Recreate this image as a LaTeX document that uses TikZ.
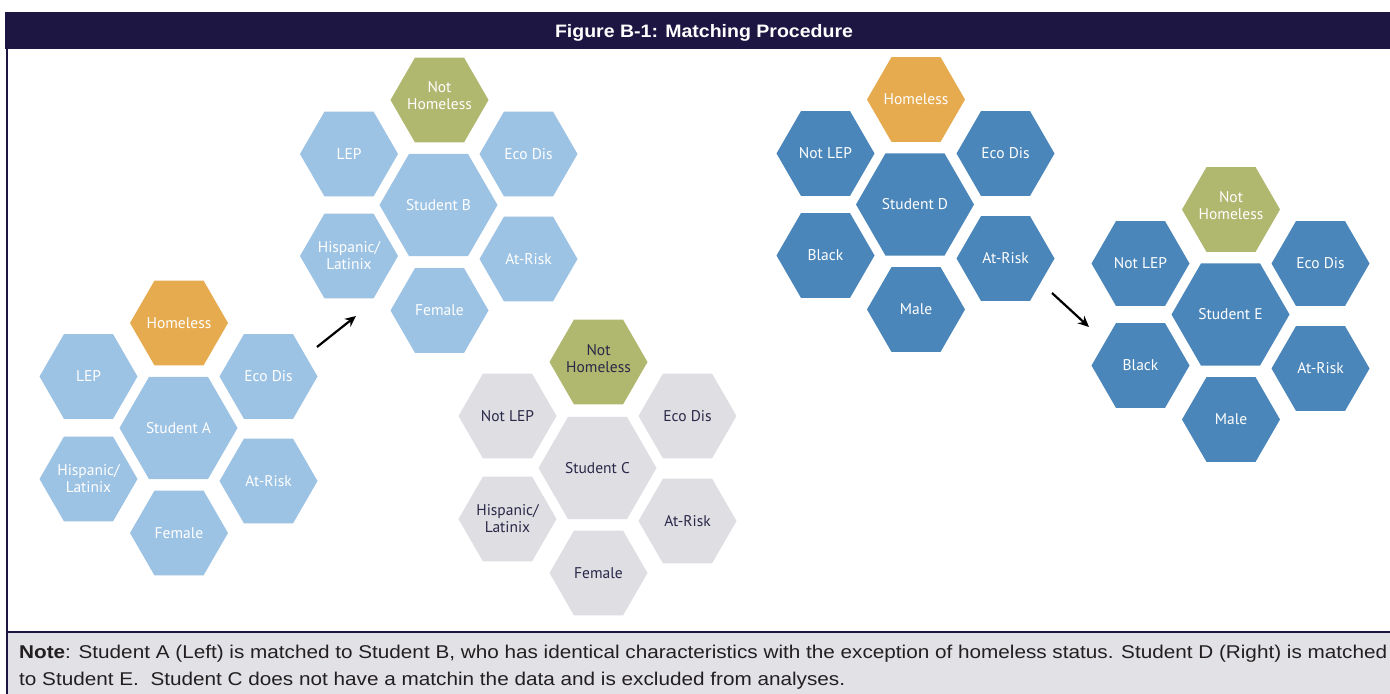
\documentclass[tikz,border=0pt]{standalone}
\usepackage{fontspec}
\usepackage{graphicx}
\usetikzlibrary{shapes.geometric,arrows.meta}
\newfontfamily\hexfont{PT Sans}
\newfontfamily\notefont{Liberation Sans}
\definecolor{lblue}{HTML}{9DC3E4}
\definecolor{hexorange}{HTML}{E6AA4F}
\definecolor{olive}{HTML}{B0B76F}
\definecolor{hexgray}{HTML}{DEDEE3}
\definecolor{dblue}{HTML}{4A86B9}
\definecolor{navy}{HTML}{1E1642}
\definecolor{darktext}{HTML}{2A2848}
\definecolor{notebg}{HTML}{E1E1E6}
\definecolor{notetext}{HTML}{231F20}
\tikzset{
  hexS/.style={regular polygon, regular polygon sides=6, minimum size=98bp, inner sep=0pt, draw=none},
  hexL/.style={hexS, minimum size=118bp},
  hexT/.style={inner sep=0pt, align=center, text=white, font=\hexfont\fontsize{15.5bp}{17bp}\selectfont},
  lab/.style={label={[hexT]center:{#1}}},
  labd/.style={label={[hexT,text=darktext]center:{#1}}},
  labup/.style={label={[hexT,yshift=4bp]center:{#1}}},
  labupd/.style={label={[hexT,yshift=3bp,text=darktext]center:{#1}}},
  hexA/.style={fill=lblue},
  hexO/.style={fill=hexorange},
  hexG/.style={fill=olive},
  hexC/.style={fill=hexgray},
  hexD/.style={fill=dblue},
  matcharrow/.style={line width=2.2bp, -{Stealth[length=11bp,width=10bp]}},
}
\begin{document}
\begin{tikzpicture}[x=1bp,y=-1bp]
\useasboundingbox (0,0) rectangle (1390,694);
% frame
\fill[white] (0,0) rectangle (1390,694);
\fill[navy] (5,12) rectangle (1390,49);
\fill[notebg] (7,632) rectangle (1390,694);
\draw[navy, line width=1.2bp] (7,49) -- (7,694);
\draw[navy, line width=1.2bp] (7,632) -- (1390,632);
\node[text=white, anchor=base, font=\notefont\bfseries\fontsize{18bp}{20bp}\selectfont] (title) at (704,37.5)
  {\resizebox{298bp}{\height}{Figure B-1: Matching Procedure}};

% Cluster A
\node[hexL,hexA,lab={Student A}] (sA) at (178.5,428) {};
\node[hexS,hexO,lab={Homeless}] (aH) at (179,323) {};
\node[hexS,hexA,lab={LEP}] (aL) at (88.5,376.5) {};
\node[hexS,hexA,lab={Eco Dis}] (aE) at (268.5,376.5) {};
\node[hexS,hexA,lab={Hispanic/\\Latinix}] (aHi) at (88.5,479) {};
\node[hexS,hexA,lab={At-Risk}] (aR) at (268.5,481) {};
\node[hexS,hexA,lab={Female}] (aF) at (179,533) {};

% Cluster B
\node[hexL,hexA,lab={Student B}] (sB) at (438.5,205) {};
\node[hexS,hexG,labup={Not\\Homeless}] (bH) at (439.5,100) {};
\node[hexS,hexA,lab={LEP}] (bL) at (349,154) {};
\node[hexS,hexA,lab={Eco Dis}] (bE) at (528.5,154) {};
\node[hexS,hexA,lab={Hispanic/\\Latinix}] (bHi) at (349,256) {};
\node[hexS,hexA,lab={At-Risk}] (bR) at (528.5,259) {};
\node[hexS,hexA,lab={Female}] (bF) at (439.5,310.5) {};

% Cluster C
\node[hexL,hexC,labd={Student C}] (sC) at (597.5,468) {};
\node[hexS,hexG,labupd={Not\\Homeless}] (cH) at (598.5,362) {};
\node[hexS,hexC,labd={Not LEP}] (cL) at (507.5,416) {};
\node[hexS,hexC,labd={Eco Dis}] (cE) at (687.5,416) {};
\node[hexS,hexC,labd={Hispanic/\\Latinix}] (cHi) at (507.5,519) {};
\node[hexS,hexC,labd={At-Risk}] (cR) at (687.5,521) {};
\node[hexS,hexC,labd={Female}] (cF) at (598.5,573) {};

% Cluster D
\node[hexL,hexD,lab={Student D}] (sD) at (915,204.5) {};
\node[hexS,hexO,lab={Homeless}] (dH) at (916,99.5) {};
\node[hexS,hexD,lab={Not LEP}] (dL) at (825.5,153.5) {};
\node[hexS,hexD,lab={Eco Dis}] (dE) at (1005.5,153.5) {};
\node[hexS,hexD,lab={Black}] (dB) at (825.5,255.5) {};
\node[hexS,hexD,lab={At-Risk}] (dR) at (1005.5,258.5) {};
\node[hexS,hexD,lab={Male}] (dM) at (916,309.5) {};

% Cluster E
\node[hexL,hexD,lab={Student E}] (sE) at (1230.5,314.5) {};
\node[hexS,hexG,labup={Not\\Homeless}] (eH) at (1231,209.5) {};
\node[hexS,hexD,lab={Not LEP}] (eL) at (1140.5,263.5) {};
\node[hexS,hexD,lab={Eco Dis}] (eE) at (1320.5,263.5) {};
\node[hexS,hexD,lab={Black}] (eB) at (1140.5,365.5) {};
\node[hexS,hexD,lab={At-Risk}] (eR) at (1320.5,368.5) {};
\node[hexS,hexD,lab={Male}] (eM) at (1231,419.5) {};

% arrows
\coordinate (ab1) at (317,347);
\coordinate (ab2) at (356,316);
\coordinate (de1) at (1052,293);
\coordinate (de2) at (1089,327);
\draw[matcharrow] (ab1) -- (ab2);
\draw[matcharrow] (de1) -- (de2);

% note
\node[anchor=base west, inner sep=0pt, text=notetext, font=\notefont\fontsize{18.5bp}{22bp}\selectfont] (note1) at (19,658)
  {\resizebox{1368bp}{\height}{\textbf{Note}: Student A (Left) is matched to Student B, who has identical characteristics with the exception of homeless status. Student D (Right) is matched}};
\node[anchor=base west, inner sep=0pt, text=notetext, font=\notefont\fontsize{18.5bp}{22bp}\selectfont] (note2) at (19,685)
  {\resizebox{826bp}{\height}{to Student E.\ \ Student C does not have a matchin the data and is excluded from analyses.}};
\end{tikzpicture}
\end{document}
